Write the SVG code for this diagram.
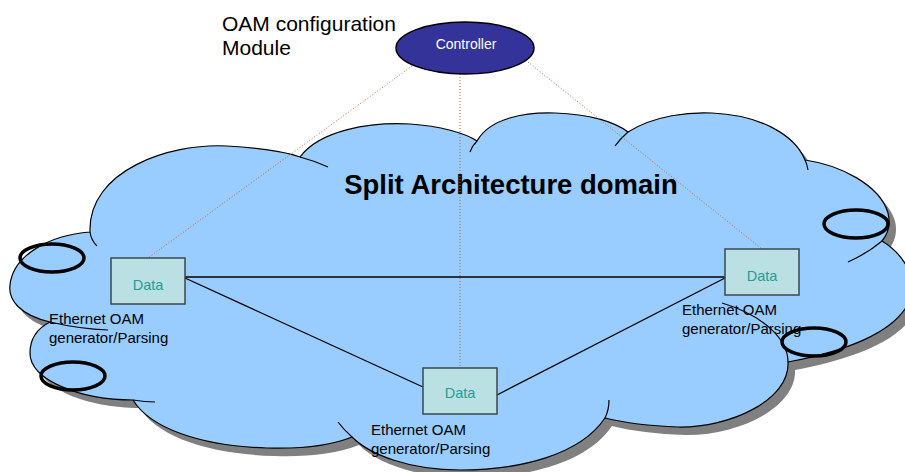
<svg xmlns="http://www.w3.org/2000/svg" xmlns:xlink="http://www.w3.org/1999/xlink" width="905" height="472" viewBox="0 0 905 472">
<style>
text{font-family:"Liberation Sans",Arial,sans-serif}
.tail{fill:none;stroke:#000;stroke-width:1.2}
.ring{fill:none;stroke:#000;stroke-width:3.5}
.dot{fill:none;stroke:#C0653F;stroke-width:1;stroke-dasharray:1,2}
.link{fill:none;stroke:#000;stroke-width:1.3}
.box{fill:#BBE0E3;stroke:#3A4750;stroke-width:1.5}
.dtext{font-size:14.5px;fill:#1E9E9A;text-anchor:middle}
.lbl{font-size:15px;fill:#000}
</style>
<defs>
<path id="cloud" d="M90,232 C88,170 170,143 227,146 C260,148 285,152 300,157 C320,130 370,122 410,124 C440,126 465,133 477,141 C490,118 525,112 555,113 C590,114 615,122 628,132 C655,115 690,112 712,113 C760,115 795,135 805,160 C840,165 880,185 888,213 C891,225 887,235 882,241 C905,255 918,280 910,300 C895,335 840,352 788,362 C790,400 730,428 678,427 C650,426 625,423 605,418 C580,455 520,470 460,470 C410,470 370,455 352,437 C330,446 300,449 267,448 C200,446 150,428 133,400 C80,400 30,380 30,353 C30,338 38,328 50,322 C20,315 8,300 10,285 C13,255 50,235 90,232 Z"/>
</defs>
<g id="cloud-domain">
<use xlink:href="#cloud" href="#cloud" transform="translate(7,8)" fill="#808080"/>
<use xlink:href="#cloud" href="#cloud" fill="#99CCFF" stroke="#000" stroke-width="1.2"/>
<path class="tail" d="M90,232 Q91,240 97,246"/>
<path class="tail" d="M300,157 Q315,161 328,167"/>
<path class="tail" d="M477,141 Q472,146 470,152"/>
<path class="tail" d="M628,132 Q620,139 615,146"/>
<path class="tail" d="M805,160 Q807,164 808,170"/>
<path class="tail" d="M882,241 Q868,253 848,262"/>
<path class="tail" d="M788,362 C788,340 765,316 722,303"/>
<path class="tail" d="M605,418 Q609,410 609,400"/>
<path class="tail" d="M352,437 Q344,430 338,422"/>
<path class="tail" d="M133,400 Q145,402 155,402"/>
<path class="tail" d="M50,322 Q80,329 108,330"/>
<ellipse class="ring" cx="52" cy="258" rx="32" ry="14"/>
<ellipse class="ring" cx="73" cy="376" rx="32" ry="14"/>
<ellipse class="ring" cx="856" cy="224" rx="32" ry="14"/>
<ellipse class="ring" cx="814" cy="342" rx="32" ry="14"/>
<text x="511" y="194" font-size="27.5" font-weight="bold" text-anchor="middle">Split Architecture domain</text>
</g>
<g id="connectors">
<line class="dot" x1="412" y1="66" x2="148" y2="258"/>
<line class="dot" x1="460" y1="74" x2="460" y2="368"/>
<line class="dot" x1="528" y1="62" x2="762" y2="249"/>
<line class="link" x1="185" y1="277" x2="725" y2="277"/>
<line class="link" x1="185" y1="278" x2="423" y2="387"/>
<line class="link" x1="725" y1="278" x2="497" y2="395"/>
</g>
<g id="controller">
<ellipse cx="465" cy="48" rx="69" ry="26" fill="#333399" stroke="#000" stroke-width="1.5"/>
<text x="466" y="49" font-size="14" fill="#fff" text-anchor="middle">Controller</text>
<text x="222" y="31" font-size="21">OAM configuration</text>
<text x="222" y="55" font-size="21">Module</text>
</g>
<g id="data-left">
<rect class="box" x="111" y="258" width="74" height="46"/>
<text class="dtext" x="148" y="290">Data</text>
<text class="lbl" x="49" y="324">Ethernet OAM</text>
<text class="lbl" x="49" y="343">generator/Parsing</text>
</g>
<g id="data-right">
<rect class="box" x="725" y="249" width="74" height="46"/>
<text class="dtext" x="762" y="281">Data</text>
<text class="lbl" x="682" y="315">Ethernet OAM</text>
<text class="lbl" x="682" y="334">generator/Parsing</text>
</g>
<g id="data-bottom">
<rect class="box" x="423" y="368" width="74" height="46"/>
<text class="dtext" x="460" y="398">Data</text>
<text class="lbl" x="371" y="435">Ethernet OAM</text>
<text class="lbl" x="371" y="454">generator/Parsing</text>
</g>
</svg>
